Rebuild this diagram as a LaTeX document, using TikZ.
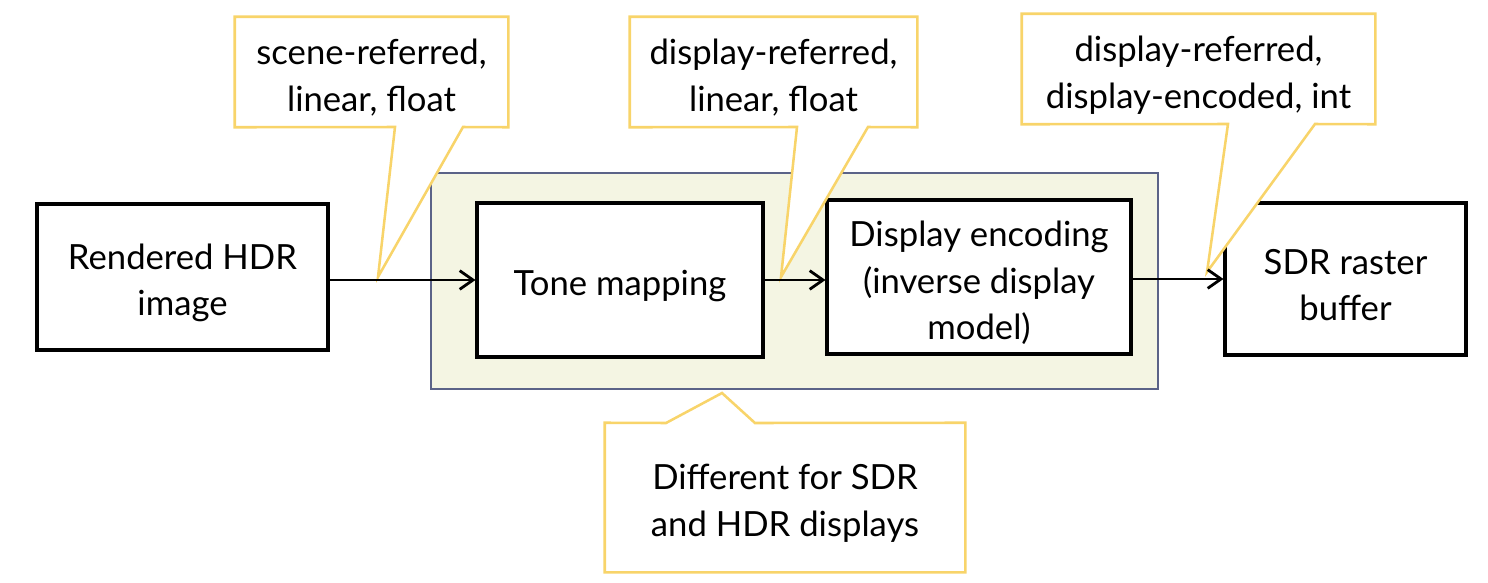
\documentclass[tikz,border=0pt]{standalone}
\usepackage{fontspec}
\setmainfont{Lato}
\usetikzlibrary{arrows.meta,calc}
\definecolor{calloutc}{HTML}{F8D46A}
\definecolor{panelfill}{HTML}{F4F5E3}
\definecolor{paneldraw}{HTML}{5B6388}
\pgfdeclarelayer{background}
\pgfdeclarelayer{mid}
\pgfsetlayers{background,mid,main}
\newcommand\firstdn{\rule{0pt}{28pt}}
\tikzset{
  every node/.style={font=\fontsize{26}{35}\selectfont, align=center, inner sep=0pt},
  blockbox/.style={draw=black, line width=2.3pt, fill=white},
  panelbox/.style={draw=paneldraw, line width=2pt, fill=panelfill},
  calloutshape/.style={draw=calloutc, line width=1.9pt, fill=white, line join=miter},
  arr/.style={line width=2.1pt, -{Straight Barb[length=10pt,width=14pt,line width=2.1pt]}},
}
\begin{document}
\begin{tikzpicture}[x=0.75pt,y=-0.75pt]
\useasboundingbox (0,0) rectangle (1488,582);
\begin{pgfonlayer}{background}
\node[panelbox, minimum width=727*0.75pt, minimum height=216*0.75pt] (panel) at (794.5,281) {};
\node[blockbox, minimum width=291*0.75pt, minimum height=146*0.75pt] (hdr) at (182.5,277) {\firstdn Rendered HDR\\image};
\node[blockbox, minimum width=286*0.75pt, minimum height=154*0.75pt] (tone) at (620,280) {\firstdn Tone mapping};
\node[blockbox, minimum width=304*0.75pt, minimum height=154*0.75pt] (enc) at (979,277) {\firstdn Display encoding\\(inverse display\\model)};
\node[blockbox, minimum width=241*0.75pt, minimum height=152*0.75pt] (sdr) at (1345.5,279) {\firstdn SDR raster\\buffer};
\end{pgfonlayer}
% callout texts
\node[minimum width=273*0.75pt, minimum height=110*0.75pt] (c1) at (371.5,72) {\firstdn scene-referred,\\linear, float};
\node[minimum width=287*0.75pt, minimum height=110*0.75pt] (c2) at (773.5,72) {\firstdn display-referred,\\linear, float};
\node[minimum width=353*0.75pt, minimum height=110*0.75pt] (c3) at (1198.5,69) {\firstdn display-referred,\\display-encoded, int};
\node[minimum width=360*0.75pt, minimum height=149*0.75pt] (c4) at (785,497.5) {\firstdn Different for SDR\\and HDR displays};
\coordinate (t1) at (378,277);
\coordinate (t2) at (781,277);
\coordinate (t3) at (1207,272);
\coordinate (t4) at (722,393);
\begin{pgfonlayer}{mid}
\draw[calloutshape] (c1.north west) -- (c1.north east) -- (c1.south east) -- (463,127) -- (t1) -- (395,127) -- (c1.south west) -- cycle;
\draw[calloutshape] (c2.north west) -- (c2.north east) -- (c2.south east) -- (868,127) -- (t2) -- (797,127) -- (c2.south west) -- cycle;
\draw[calloutshape] (c3.north west) -- (c3.north east) -- (c3.south east) -- (1315,124) -- (t3) -- (1228,124) -- (c3.south west) -- cycle;
\draw[calloutshape] (c4.north west) -- (666,423) -- (t4) -- (755,423) -- (c4.north east) -- (c4.south east) -- (c4.south west) -- cycle;
\end{pgfonlayer}
% arrows
\draw[arr] (hdr.east |- tone.west) -- (tone.west);
\draw[arr] (tone.east) -- (enc.west |- tone.east);
\draw[arr] (enc.east |- sdr.west) -- (sdr.west);
\end{tikzpicture}
\end{document}
